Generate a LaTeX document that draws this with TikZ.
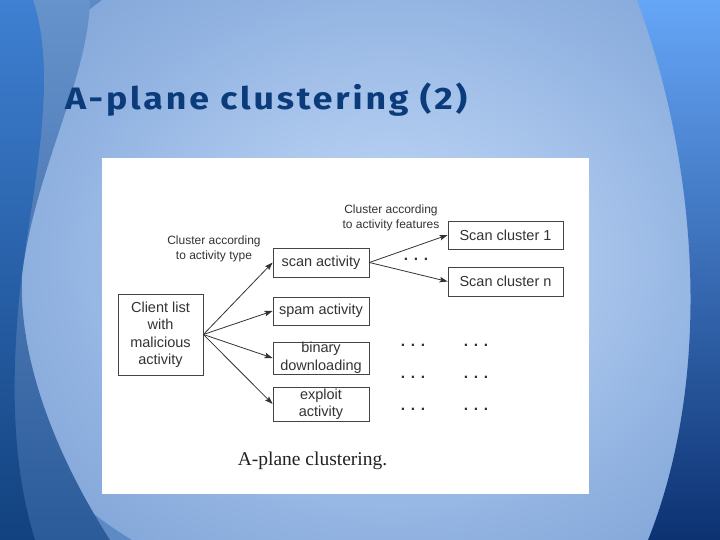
\documentclass[tikz,border=0pt]{standalone}
\usepackage{fontspec}
\setmainfont{Liberation Sans}
\newfontfamily\titlefont[LetterSpace=8]{Fira Sans}
\newfontfamily\capfont{Liberation Serif}
\usetikzlibrary{arrows.meta}
\definecolor{bgA}{HTML}{C0D7F5}
\definecolor{bgB}{HTML}{B3CDF0}
\definecolor{bgC}{HTML}{93B4E2}
\definecolor{bgD}{HTML}{739AD0}
\definecolor{bgout}{HTML}{5D89C5}
\definecolor{titleblue}{HTML}{0B3B7B}
\definecolor{boxline}{HTML}{444444}
\definecolor{textgray}{HTML}{333333}
\definecolor{arrowgray}{HTML}{333333}
\definecolor{captext}{HTML}{222222}
\definecolor{bandtop}{HTML}{6793CC}
\definecolor{bandmid}{HTML}{3F70B4}
\definecolor{bandbot}{HTML}{2C5B9A}
\definecolor{darktop}{HTML}{3F80D2}
\definecolor{darkmid}{HTML}{1B4D91}
\definecolor{darkbot}{HTML}{12427F}
\definecolor{righttop}{HTML}{66A6F7}
\definecolor{rightmid}{HTML}{4A85D4}
\definecolor{rightbot}{HTML}{0C3272}
\pgfdeclareradialshading{bgshade}{\pgfpoint{0bp}{0bp}}{color(0bp)=(bgA); color(7bp)=(bgB); color(19bp)=(bgC); color(33bp)=(bgD); color(50bp)=(bgout)}
\begin{document}
\begin{tikzpicture}[x=1pt,y=-1pt,
  boxnode/.style={draw=boxline, line width=0.8pt, text=textgray, align=center, inner sep=0pt,
    font=\fontsize{14.5}{17.5}\selectfont},
  lbl/.style={text=textgray, align=center, inner sep=0pt, font=\fontsize{12}{15}\selectfont},
  dotsnode/.style={text=textgray, inner sep=0pt, anchor=base, font=\bfseries\fontsize{15.5}{17}\selectfont},
  arr/.style={draw=arrowgray, line width=0.8pt, -{Stealth[length=8pt,width=5.5pt,inset=1.5pt]}}]
\useasboundingbox (0,0) rectangle (720,540);
\begin{scope}
\clip (0,0) rectangle (720,540);
\fill[bgout] (0,0) rectangle (720,540);
\shade[shading=bgshade] (390,260) ellipse[x radius=430pt, y radius=350pt];
% left band
\shade[top color=bandtop, middle color=bandmid, bottom color=bandbot] (0,0) -- (90,0) .. controls (88,80) and (35,170) .. (22,275) .. controls (18,370) and (65,470) .. (110,540) -- (0,540) -- cycle;
% left dark region
\shade[top color=darktop, middle color=darkmid, bottom color=darkbot] (0,0) -- (33,0) .. controls (60,80) and (30,200) .. (20,290) .. controls (12,370) and (10,460) .. (35,540) -- (0,540) -- cycle;
% right region
\shade[top color=righttop, middle color=rightmid, bottom color=rightbot] (637,0) .. controls (700,170) and (712,380) .. (648,540) -- (720,540) -- (720,0) -- cycle;
\end{scope}
% title
\node[anchor=base west, inner sep=0pt, text=titleblue, font=\titlefont\bfseries\fontsize{31}{36}\selectfont] (title) at (65,110) {\scalebox{1.15}[1]{A-plane clustering (2)}};
% white panel
\fill[white] (102,158) rectangle (589,494);
% boxes
\node[boxnode, minimum width=85pt, minimum height=81pt] (client) at (160.5,334.5) {Client list\\with\\malicious\\activity};
\node[boxnode, minimum width=96pt, minimum height=29pt] (scan) at (321,262.5) {scan activity};
\node[boxnode, minimum width=96pt, minimum height=28pt] (spam) at (321,311) {spam activity};
\node[boxnode, minimum width=96pt, minimum height=32pt] (binary) at (321,358) {binary\\downloading};
\node[boxnode, minimum width=96pt, minimum height=34pt] (exploit) at (321,404) {exploit\\activity};
\node[boxnode, minimum width=115pt, minimum height=28pt] (sc1) at (505.5,235) {Scan cluster 1};
\node[boxnode, minimum width=115pt, minimum height=29pt] (scn) at (505.5,281.5) {Scan cluster n};
% labels
\node[lbl] (lbltype) at (214,249) {Cluster according\\to activity type};
\node[lbl] (lblfeat) at (391,217.5) {Cluster according\\to activity features};
% dots
\node[dotsnode] (d0) at (416,260.5) {. . .};
\node[dotsnode] (d1) at (413,346.5) {. . .};
\node[dotsnode] (d2) at (476,346.5) {. . .};
\node[dotsnode] (d3) at (413,378.5) {. . .};
\node[dotsnode] (d4) at (476,378.5) {. . .};
\node[dotsnode] (d5) at (413,410.5) {. . .};
\node[dotsnode] (d6) at (476,410.5) {. . .};
% arrows
\draw[arr] (client.east) -- (scan.west);
\draw[arr] (client.east) -- (spam.west);
\draw[arr] (client.east) -- (binary.west);
\draw[arr] (client.east) -- (exploit.west);
\draw[arr] (scan.east) -- (sc1.west);
\draw[arr] (scan.east) -- (scn.west);
% caption
\node[anchor=base, inner sep=0pt, text=captext, font=\capfont\fontsize{19.5}{22}\selectfont] (caption) at (312.5,465) {A-plane clustering.};
\end{tikzpicture}
\end{document}
